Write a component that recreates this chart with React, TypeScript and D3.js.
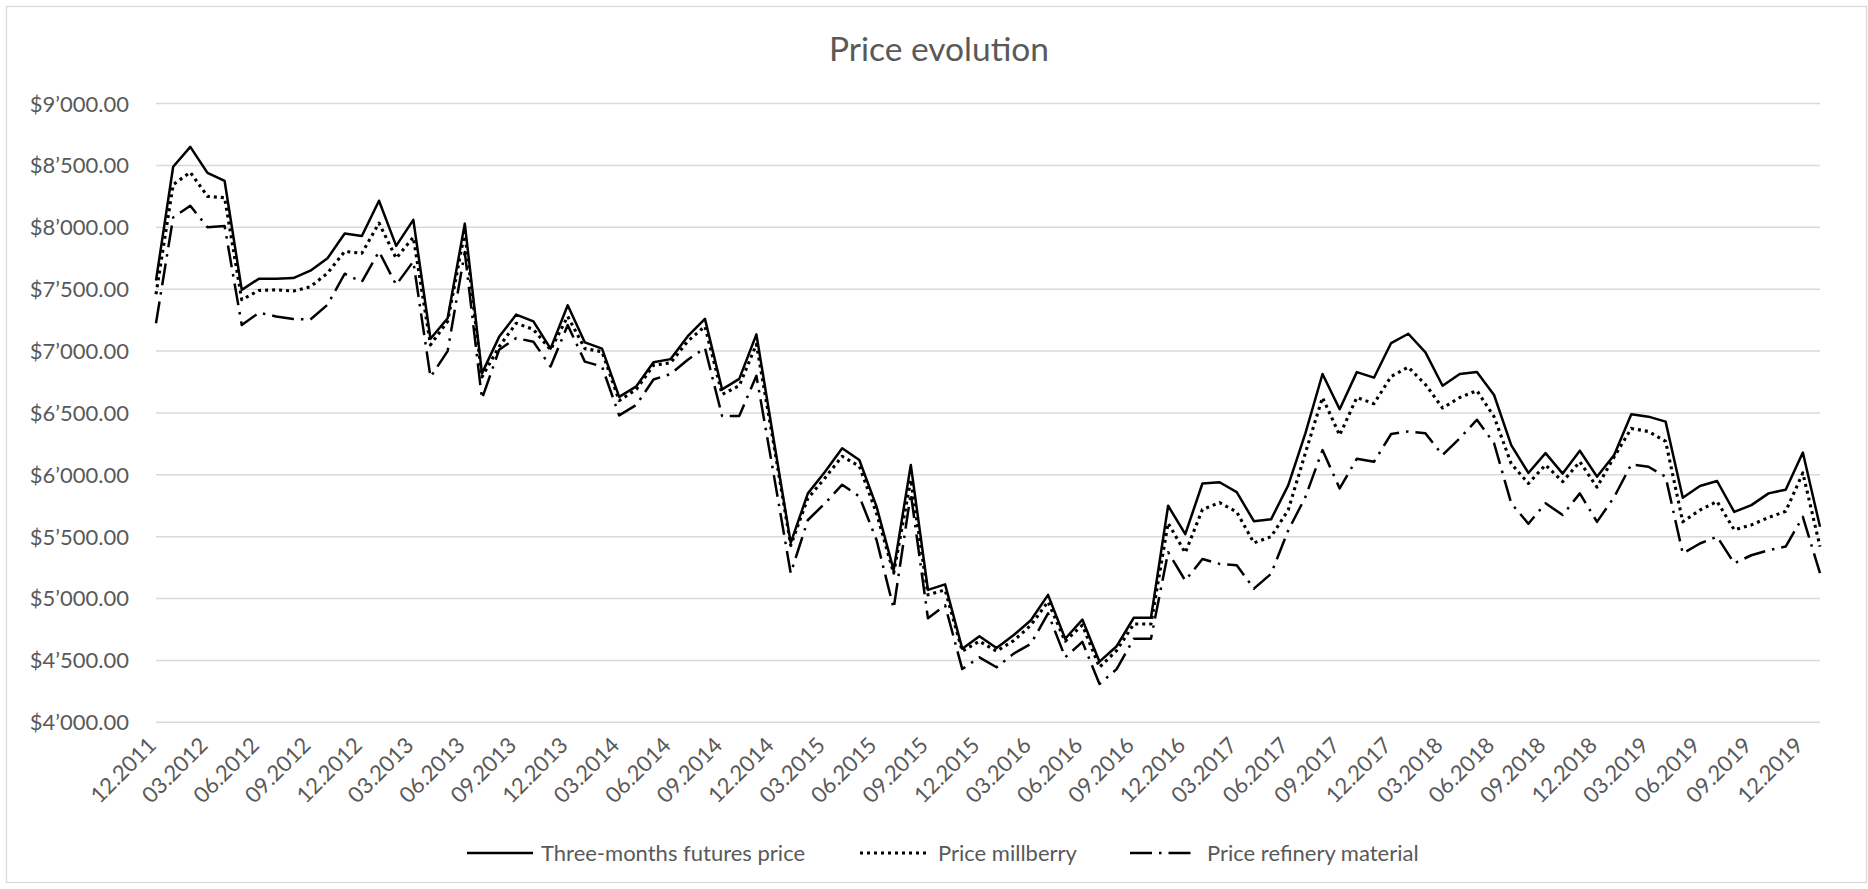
import React from "react";
import * as d3 from "d3";

const months: string[] = [
  "12.2011","01.2012","02.2012","03.2012","04.2012","05.2012","06.2012","07.2012","08.2012","09.2012","10.2012","11.2012",
  "12.2012","01.2013","02.2013","03.2013","04.2013","05.2013","06.2013","07.2013","08.2013","09.2013","10.2013","11.2013",
  "12.2013","01.2014","02.2014","03.2014","04.2014","05.2014","06.2014","07.2014","08.2014","09.2014","10.2014","11.2014",
  "12.2014","01.2015","02.2015","03.2015","04.2015","05.2015","06.2015","07.2015","08.2015","09.2015","10.2015","11.2015",
  "12.2015","01.2016","02.2016","03.2016","04.2016","05.2016","06.2016","07.2016","08.2016","09.2016","10.2016","11.2016",
  "12.2016","01.2017","02.2017","03.2017","04.2017","05.2017","06.2017","07.2017","08.2017","09.2017","10.2017","11.2017",
  "12.2017","01.2018","02.2018","03.2018","04.2018","05.2018","06.2018","07.2018","08.2018","09.2018","10.2018","11.2018",
  "12.2018","01.2019","02.2019","03.2019","04.2019","05.2019","06.2019","07.2019","08.2019","09.2019","10.2019","11.2019",
  "12.2019","01.2020",
];

const tickLabels: string[] = [
  "12.2011","03.2012","06.2012","09.2012","12.2012","03.2013","06.2013","09.2013","12.2013","03.2014","06.2014",
  "09.2014","12.2014","03.2015","06.2015","09.2015","12.2015","03.2016","06.2016","09.2016","12.2016","03.2017",
  "06.2017","09.2017","12.2017","03.2018","06.2018","09.2018","12.2018","03.2019","06.2019","09.2019","12.2019",
];

const futures: number[] = [
  7570,8490,8650,8440,8375,7495,7585,7585,7590,7650,7750,7950,
  7930,8215,7850,8060,7100,7265,8030,6820,7115,7295,7240,7020,
  7370,7070,7020,6630,6715,6910,6935,7120,7260,6690,6775,7135,
  6290,5450,5850,6025,6215,6120,5745,5230,6080,5070,5115,4595,
  4695,4600,4705,4825,5030,4675,4830,4490,4615,4845,4845,5750,
  5520,5930,5940,5860,5625,5640,5915,6335,6815,6530,6830,6785,
  7065,7140,6990,6720,6815,6830,6645,6240,6015,6175,6010,6195,
  5985,6160,6490,6470,6430,5815,5910,5950,5700,5755,5850,5880,
  6180,5580,
];

const millberry: number[] = [
  7460,8345,8445,8250,8240,7415,7490,7495,7485,7520,7630,7805,
  7790,8035,7750,7920,7050,7240,7960,6790,7035,7225,7175,7010,
  7280,7020,6995,6600,6690,6885,6905,7080,7200,6650,6720,7055,
  6255,5430,5810,5975,6150,6070,5690,5205,5960,5030,5070,4575,
  4655,4575,4660,4785,4975,4655,4785,4445,4580,4795,4795,5610,
  5370,5720,5775,5700,5450,5500,5715,6175,6625,6320,6625,6575,
  6795,6870,6730,6540,6625,6680,6470,6090,5930,6080,5945,6105,
  5900,6145,6375,6350,6270,5620,5715,5785,5555,5595,5655,5705,
  6015,5420,
];

const refinery: number[] = [
  7225,8080,8175,8000,8010,7210,7310,7280,7260,7255,7375,7625,
  7560,7805,7535,7725,6790,7000,7800,6615,7010,7105,7075,6875,
  7210,6915,6875,6480,6565,6770,6815,6930,7025,6475,6475,6800,
  6010,5205,5635,5770,5920,5825,5475,4920,5850,4840,4945,4430,
  4525,4445,4555,4635,4880,4525,4650,4310,4430,4675,4675,5375,
  5145,5320,5280,5270,5080,5200,5550,5820,6200,5890,6130,6105,
  6330,6350,6335,6160,6295,6445,6255,5770,5605,5770,5675,5850,
  5620,5820,6085,6065,5985,5365,5445,5500,5285,5350,5390,5420,
  5660,5205,
];

const yTicks: number[] = [4000,4500,5000,5500,6000,6500,7000,7500,8000,8500,9000];

const seriesNames: string[] = ["Three-months futures price", "Price millberry", "Price refinery material"];

const W = 1868;
const H = 889;
const FONT = "Lato, 'Open Sans', sans-serif";
const TEXT = "#595959";

const locale = d3.formatLocale({ decimal: ".", thousands: "\u2019", grouping: [3], currency: ["$", ""] });
const fmt = locale.format("$,.2f");

const styles = [
  { dash: undefined as string | undefined, width: 2.5, cap: "butt" },
  { dash: "3 4", width: 3.1, cap: "butt" },
  { dash: "22 7 2.5 7", width: 2.5, cap: "butt" },
];

export default function App() {
  const x = d3.scalePoint<string>().domain(months).range([156, 1820]).padding(0);
  const y = d3.scaleLinear().domain([4000, 9000]).range([722.3, 103.6]);
  const line = d3
    .line<number>()
    .x((_, i) => x(months[i]) as number)
    .y((d) => y(d));
  const all = [futures, millberry, refinery];

  const legendItems = [
    { x0: 467, x1: 533, tx: 541 },
    { x0: 860, x1: 928, tx: 938 },
    { x0: 1130, x1: 1196, tx: 1207 },
  ];

  return (
    <svg
      width={W}
      height={H}
      style={{ position: "absolute", left: 0, top: 0, background: "#fff" }}
      fontFamily={FONT}
    >
      <rect x={0} y={0} width={W} height={H} fill="#fff" />
      <rect x={6.5} y={6.5} width={1860} height={876} fill="none" stroke="#d9d9d9" strokeWidth={1.3} />
      <text x={939} y={61} textAnchor="middle" fontSize={33.5} fill={TEXT}>
        Price evolution
      </text>
      {yTicks.map((t) => (
        <g key={t}>
          <line x1={156} x2={1820} y1={y(t)} y2={y(t)} stroke="#d9d9d9" strokeWidth={1.5} />
          <text x={129} y={y(t)} dy="0.36em" textAnchor="end" fontSize={22} fill={TEXT}>
            {fmt(t)}
          </text>
        </g>
      ))}
      {tickLabels.map((lab) => {
        const px = x(lab) as number;
        return (
          <text
            key={lab}
            transform={`translate(${px - 4},${741}) rotate(-45)`}
            textAnchor="end"
            dy="0.36em"
            fontSize={22}
            fill={TEXT}
          >
            {lab}
          </text>
        );
      })}
      {all.map((s, k) => (
        <path
          key={k}
          d={line(s) as string}
          fill="none"
          stroke="#000"
          strokeWidth={styles[k].width}
          strokeDasharray={styles[k].dash}
          strokeLinejoin="round"
          strokeLinecap={styles[k].cap as any}
        />
      ))}
      {legendItems.map((it, k) => (
        <g key={k}>
          <line
            x1={it.x0}
            x2={it.x1}
            y1={853}
            y2={853}
            stroke="#000"
            strokeWidth={styles[k].width}
            strokeDasharray={styles[k].dash}
          />
          <text x={it.tx} y={853} dy="0.36em" fontSize={22} fill={TEXT}>
            {seriesNames[k]}
          </text>
        </g>
      ))}
    </svg>
  );
}
